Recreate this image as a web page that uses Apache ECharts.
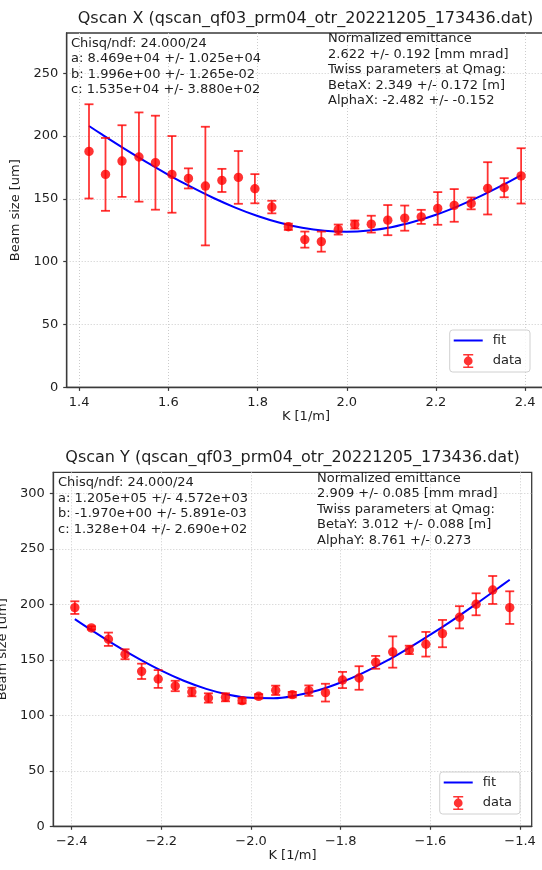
<!DOCTYPE html>
<html><head><meta charset="utf-8">
<script src="https://cdn.jsdelivr.net/npm/echarts@6/dist/echarts.min.js"></script>
<style>html,body{margin:0;padding:0;background:#fff}#c{width:542px;height:870px}</style>
</head><body><div id="c"></div>
<script>
// ---------- Qscan X data ----------
const xK = [1.422,1.459,1.496,1.534,1.571,1.608,1.645,1.683,1.720,1.757,1.794,1.832,1.869,1.906,1.943,1.981,2.018,2.055,2.092,2.130,2.167,2.204,2.241,2.279,2.316,2.353,2.391];
const xSize = [187.8,169.5,180.1,183.3,178.8,169.5,166.3,160.2,164.7,167.1,158.1,143.5,127.8,117.6,116.0,125.6,129.6,129.9,133.1,134.7,135.7,142.4,144.8,146.4,158.4,158.9,168.3];
const xErr = [37.5,29.0,28.5,35.5,37.4,30.5,8.0,47.2,9.2,21.0,11.6,5.0,2.5,6.4,8.0,4.0,3.2,6.7,12.0,10.0,5.6,13.0,13.0,4.7,20.8,7.6,22.0];
const xFitK = [1.422,1.45,1.5,1.55,1.6,1.65,1.7,1.75,1.8,1.85,1.9,1.95,2.0,2.05,2.1,2.15,2.2,2.25,2.3,2.35,2.391];
const xFitSize = [208.0,201.5,190.2,179.4,169.2,159.7,150.9,143.1,136.4,131.0,127.0,124.6,123.9,124.9,127.5,131.8,137.4,144.3,152.2,161.1,169.0];
const xTicksK = [1.4,1.6,1.8,2.0,2.2,2.4];
const xTicksSize = [0,50,100,150,200,250];

// ---------- Qscan Y data ----------
const yK = [-2.393,-2.356,-2.318,-2.281,-2.244,-2.207,-2.169,-2.132,-2.095,-2.057,-2.020,-1.983,-1.945,-1.908,-1.871,-1.834,-1.796,-1.759,-1.722,-1.684,-1.647,-1.610,-1.573,-1.535,-1.498,-1.461,-1.423];
const ySize = [197.0,178.7,168.5,155.0,139.6,132.7,126.4,121.0,115.6,116.2,113.2,117.1,122.5,118.6,122.2,120.4,131.8,133.6,147.7,157.0,158.9,164.0,173.6,188.3,200.0,212.9,197.0];
const yErr = [5.7,1.5,6.0,4.5,6.9,8.0,4.7,3.9,4.2,3.6,2.5,2.0,4.2,2.5,4.7,8.0,7.3,10.6,5.8,14.1,3.8,11.1,12.3,10.0,9.9,12.6,14.7];
const yFitK = [-2.393,-2.35,-2.3,-2.25,-2.2,-2.15,-2.1,-2.05,-2.0,-1.95,-1.9,-1.85,-1.8,-1.75,-1.7,-1.65,-1.6,-1.55,-1.5,-1.45,-1.423];
const yFitSize = [186.7,175.2,162.5,150.8,140.2,131.1,123.8,118.5,115.7,115.4,117.8,122.5,129.5,138.2,148.5,160.1,172.6,185.8,199.7,214.2,222.1];
const yTicksK = [-2.4,-2.2,-2.0,-1.8,-1.6,-1.4];
const yTicksSize = [0,50,100,150,200,250,300];

// ---------- texts ----------
const titleX = 'Qscan X (qscan_qf03_prm04_otr_20221205_173436.dat)';
const titleY = 'Qscan Y (qscan_qf03_prm04_otr_20221205_173436.dat)';
const fitTextX = ['Chisq/ndf: 24.000/24','a: 8.469e+04 +/- 1.025e+04','b: 1.996e+00 +/- 1.265e-02','c: 1.535e+04 +/- 3.880e+02'];
const twissTextX = ['Normalized emittance','2.622 +/- 0.192 [mm mrad]','Twiss parameters at Qmag:','BetaX: 2.349 +/- 0.172 [m]','AlphaX: -2.482 +/- -0.152'];
const fitTextY = ['Chisq/ndf: 24.000/24','a: 1.205e+05 +/- 4.572e+03','b: -1.970e+00 +/- 5.891e-03','c: 1.328e+04 +/- 2.690e+02'];
const twissTextY = ['Normalized emittance','2.909 +/- 0.085 [mm mrad]','Twiss parameters at Qmag:','BetaY: 3.012 +/- 0.088 [m]','AlphaY: 8.761 +/- 0.273'];

const FONT = '"DejaVu Sans", sans-serif';
const RED = 'rgba(255,0,0,0.8)';
const BLUE = '#0000ff';
const AX = '#3a3a3a';
const TXT = '#1e1e1e';
const DATA_ICON = 'path://M0,0H10V1.6H5.8V12.4H10V14H0V12.4H4.2V1.6H0Z M9.4,7A4.4,4.4 0 1,1 0.6,7A4.4,4.4 0 1,1 9.4,7Z';
const FIT_ICON = 'path://M0,0H29V2H0Z';

function fmtK(v){ const s = Math.abs(v).toFixed(1); return v < 0 ? '\u2212' + s : s; }

function errRender(params, api){
  const x = api.value(0), y = api.value(1), e = api.value(2);
  const p = api.coord([x, y]);
  const t = api.coord([x, y + e]);
  const b = api.coord([x, y - e]);
  const cw = 4.5;
  const st = {stroke: RED, lineWidth: 1.8, fill: null};
  return {type:'group', children:[
    {type:'line', shape:{x1:p[0], y1:t[1], x2:p[0], y2:b[1]}, style:st},
    {type:'line', shape:{x1:p[0]-cw, y1:t[1], x2:p[0]+cw, y2:t[1]}, style:st},
    {type:'line', shape:{x1:p[0]-cw, y1:b[1], x2:p[0]+cw, y2:b[1]}, style:st},
    {type:'circle', shape:{cx:p[0], cy:p[1], r:4.7}, style:{fill:RED, stroke:null}}
  ]};
}

function xAxisCfg(idx, min, max, ticks){
  return {gridIndex: idx, type:'value', min:min, max:max,
    name:'K [1/m]', nameLocation:'middle', nameGap:22,
    nameTextStyle:{fontFamily:FONT, fontSize:13, color:TXT},
    axisLine:{show:true, onZero:false, lineStyle:{color:AX, width:1.3}},
    axisTick:{show:true, length:3.5, lineStyle:{color:AX, width:1.2}, customValues:ticks},
    axisLabel:{customValues:ticks, margin:8.5, fontFamily:FONT, fontSize:13, color:TXT, formatter:fmtK},
    splitLine:{show:true, lineStyle:{type:[1,2], color:'#cccccc', width:1}}
  };
}
function yAxisCfg(idx, min, max, ticks, gap){
  return {gridIndex: idx, type:'value', min:min, max:max,
    name:'Beam size [um]', nameLocation:'middle', nameGap:gap, nameRotate:90,
    nameTextStyle:{fontFamily:FONT, fontSize:13, color:TXT},
    axisLine:{show:true, onZero:false, lineStyle:{color:AX, width:1.3}},
    axisTick:{show:true, length:3.5, lineStyle:{color:AX, width:1.2}, customValues:ticks},
    axisLabel:{customValues:ticks, margin:8.5, fontFamily:FONT, fontSize:13, color:TXT},
    splitLine:{show:true, lineStyle:{type:[1,2], color:'#cccccc', width:1}}
  };
}
function legendCfg(right, top){
  return {orient:'vertical', right:right, top:top, itemWidth:29, itemHeight:14, itemGap:7,
    padding:[4,8,4,4], backgroundColor:'rgba(255,255,255,0.8)', borderColor:'#d0d0d0', borderWidth:1, borderRadius:3,
    textStyle:{fontFamily:FONT, fontSize:13, color:TXT, padding:[0,0,0,5]},
    data:[{name:'fit', icon:FIT_ICON, itemStyle:{color:BLUE}}, {name:'data', icon:DATA_ICON}]};
}
function textBlock(lines, x, y){
  return {type:'text', x:x, y:y, z:100, style:{text: lines.join('\n'), font:'13px ' + FONT, fill:TXT, lineHeight:15.5, align:'left', verticalAlign:'top'}};
}

const chart = echarts.init(document.getElementById('c'), null, {renderer:'canvas'});
chart.setOption({
  animation:false,
  backgroundColor:'#ffffff',
  grid:[
    {left:66.7, top:33, width:478.5, height:354.4, show:true, borderColor:AX, borderWidth:1.3, backgroundColor:'#fff', containLabel:false, outerBoundsMode:'none'},
    {left:53.3, top:472.3, width:478.4, height:354, show:true, borderColor:AX, borderWidth:1.3, backgroundColor:'#fff', containLabel:false, outerBoundsMode:'none'}
  ],
  xAxis:[ xAxisCfg(0, 1.372, 2.445, xTicksK), xAxisCfg(1, -2.441, -1.374, yTicksK) ],
  yAxis:[ yAxisCfg(0, 0, 282, xTicksSize, 39), yAxisCfg(1, 0, 318.9, yTicksSize, 35) ],
  legend:[ legendCfg(12, 330), legendCfg(22, 772) ],
  series:[
    {name:'fit', type:'line', xAxisIndex:0, yAxisIndex:0, data: xFitK.map((k,i)=>[k, xFitSize[i]]), showSymbol:false, symbol:'none', smooth:0.4, lineStyle:{color:BLUE, width:2}, itemStyle:{color:BLUE}, z:2},
    {name:'data', type:'custom', xAxisIndex:0, yAxisIndex:0, data: xK.map((k,i)=>[k, xSize[i], xErr[i]]), encode:{x:0, y:1}, renderItem:errRender, itemStyle:{color:RED}, clip:false, z:3},
    {name:'fit', type:'line', xAxisIndex:1, yAxisIndex:1, data: yFitK.map((k,i)=>[k, yFitSize[i]]), showSymbol:false, symbol:'none', smooth:0.4, lineStyle:{color:BLUE, width:2}, itemStyle:{color:BLUE}, z:2},
    {name:'data', type:'custom', xAxisIndex:1, yAxisIndex:1, data: yK.map((k,i)=>[k, ySize[i], yErr[i]]), encode:{x:0, y:1}, renderItem:errRender, itemStyle:{color:RED}, clip:false, z:3}
  ],
  graphic:[
    {type:'text', x:305.5, y:18.5, style:{text:titleX, font:'16px ' + FONT, fill:TXT, align:'center', verticalAlign:'middle'}},
    {type:'text', x:292.5, y:457.5, style:{text:titleY, font:'16px ' + FONT, fill:TXT, align:'center', verticalAlign:'middle'}},
    textBlock(fitTextX, 71, 35.75),
    textBlock(twissTextX, 328, 31.25),
    textBlock(fitTextY, 58, 475),
    textBlock(twissTextY, 317, 470.5)
  ]
});
</script></body></html>
